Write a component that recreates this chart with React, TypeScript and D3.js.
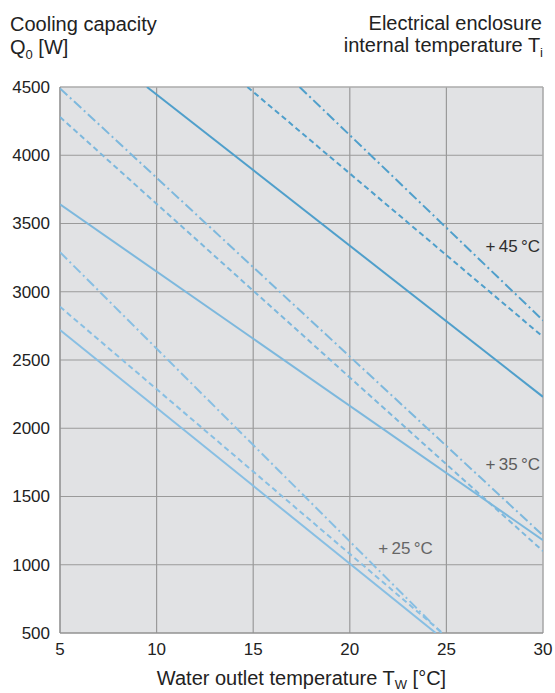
import React from 'react';
import * as d3 from 'd3';

// values
const xTicks = [5, 10, 15, 20, 25, 30];
const yTicks = [500, 1000, 1500, 2000, 2500, 3000, 3500, 4000, 4500];

type Pt = [number, number];

interface Curve {
  group: '45' | '35' | '25';
  style: 'solid' | 'dash' | 'dashdot';
  points: Pt[];
}

const curves45: Curve[] = [
  { group: '45', style: 'solid', points: [[9.5, 4500], [30, 2230]] },
  { group: '45', style: 'dash', points: [[14.7, 4500], [30, 2670]] },
  { group: '45', style: 'dashdot', points: [[17.4, 4500], [30, 2790]] },
];

const curves35: Curve[] = [
  { group: '35', style: 'solid', points: [[5, 3640], [30, 1180]] },
  { group: '35', style: 'dash', points: [[5, 4280], [30, 1100]] },
  { group: '35', style: 'dashdot', points: [[5, 4490], [30, 1215]] },
];

const curves25: Curve[] = [
  { group: '25', style: 'solid', points: [[5, 2720], [24.45, 500]] },
  { group: '25', style: 'dash', points: [[5, 2890], [24.8, 500]] },
  { group: '25', style: 'dashdot', points: [[5, 3290], [24.75, 500]] },
];

const tempLabels = [
  { text: '+\u200945\u2009°C', x: 29.85, y: 3290, color: '#2e2e2e' },
  { text: '+\u200935\u2009°C', x: 29.85, y: 1694, color: '#5c5c5c' },
  { text: '+\u200925\u2009°C', x: 24.3, y: 1079, color: '#666666' },
];

const groupColor: Record<string, string> = {
  '45': '#4f9fcb',
  '35': '#7db8dd',
  '25': '#88bfe3',
};

const dashFor: Record<string, string | undefined> = {
  solid: undefined,
  dash: '5.5,3.5',
  dashdot: '10,3.5,2,3.5',
};

const W = 555;
const H = 693;
const margin = { top: 87, right: 12, bottom: 60, left: 60 };
const font = '"Liberation Sans", Arial, Helvetica, sans-serif';

export default function App() {
  const innerW = W - margin.left - margin.right;
  const innerH = H - margin.top - margin.bottom;

  const x = d3.scaleLinear().domain([5, 30]).range([0, innerW]);
  const y = d3.scaleLinear().domain([500, 4500]).range([innerH, 0]);
  const line = d3
    .line<Pt>()
    .x((d) => x(d[0]))
    .y((d) => y(d[1]));

  const allCurves = [...curves25, ...curves35, ...curves45];

  return (
    <svg
      width={W}
      height={H}
      style={{ position: 'absolute', left: 0, top: 0, fontFamily: font }}
    >
      <rect width={W} height={H} fill="#fff" />

      {/* titles */}
      <text x={10} y={31} fontSize={20} fill="#222">
        Cooling capacity
      </text>
      <text x={10} y={54} fontSize={20} fill="#222">
        Q<tspan fontSize={13} dy={5}>0</tspan>
        <tspan dy={-5}> [W]</tspan>
      </text>
      <text x={W - margin.right - 1} y={30} fontSize={20} fill="#222" textAnchor="end">
        Electrical enclosure
      </text>
      <text x={W - margin.right} y={52} fontSize={20} fill="#222" textAnchor="end">
        internal temperature T<tspan fontSize={13} dy={5}>i</tspan>
      </text>

      <g transform={`translate(${margin.left},${margin.top})`}>
        <rect width={innerW} height={innerH} fill="#e1e2e4" />

        {xTicks.slice(1, -1).map((t) => (
          <line key={`gx${t}`} x1={x(t)} x2={x(t)} y1={0} y2={innerH} stroke="#9a9a9a" strokeWidth={1.2} />
        ))}
        {yTicks.slice(1, -1).map((t) => (
          <line key={`gy${t}`} x1={0} x2={innerW} y1={y(t)} y2={y(t)} stroke="#9a9a9a" strokeWidth={1.2} />
        ))}

        {/* frame */}
        <line x1={0} x2={innerW} y1={0} y2={0} stroke="#ababab" strokeWidth={1.6} />
        <line x1={innerW} x2={innerW} y1={0} y2={innerH} stroke="#ababab" strokeWidth={1.6} />
        <line x1={0} x2={0} y1={0} y2={innerH} stroke="#929292" strokeWidth={1.6} />
        <line x1={0} x2={innerW} y1={innerH} y2={innerH} stroke="#929292" strokeWidth={1.6} />

        <defs>
          <clipPath id="plot-clip">
            <rect width={innerW} height={innerH} />
          </clipPath>
        </defs>
        <g clipPath="url(#plot-clip)">
          {allCurves.map((c, i) => (
            <path
              key={i}
              d={line(c.points) ?? ''}
              fill="none"
              stroke={groupColor[c.group]}
              strokeWidth={2}
              strokeDasharray={dashFor[c.style]}
            />
          ))}
        </g>

        {tempLabels.map((l) => (
          <text key={l.text} x={x(l.x)} y={y(l.y)} fontSize={17} fill={l.color} textAnchor="end">
            {l.text}
          </text>
        ))}

        {yTicks.map((t) => (
          <text key={`ty${t}`} x={-10} y={y(t)} dy="0.35em" fontSize={17} fill="#222" textAnchor="end">
            {t}
          </text>
        ))}
        {xTicks.map((t) => (
          <text key={`tx${t}`} x={x(t)} y={innerH + 22} fontSize={17} fill="#222" textAnchor="middle">
            {t}
          </text>
        ))}

        <text x={innerW / 2} y={innerH + 52} fontSize={20} fill="#222" textAnchor="middle">
          Water outlet temperature T<tspan fontSize={13} dy={4}>W</tspan>
          <tspan dy={-4}> [°C]</tspan>
        </text>
      </g>
    </svg>
  );
}
